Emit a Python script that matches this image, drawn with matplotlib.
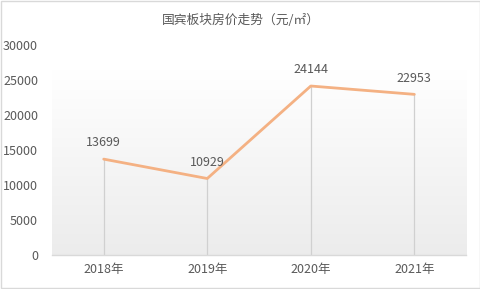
import matplotlib
matplotlib.use("Agg")
import matplotlib.pyplot as plt
import numpy as np

plt.rcParams['font.family'] = ['Noto Sans CJK SC', 'DejaVu Sans']

# data
years = ['2018年', '2019年', '2020年', '2021年']
prices = [13699, 10929, 24144, 22953]
yticks = [0, 5000, 10000, 15000, 20000, 25000, 30000]

text_col = '#595959'
line_col = '#F4B183'

fig = plt.figure(figsize=(4.81, 2.89), dpi=100)
fig.patch.set_facecolor('white')
# outer frame
fig.add_artist(plt.Rectangle((0.002, 0.003), 0.995, 0.993, transform=fig.transFigure,
                             fill=False, edgecolor='#d9d9d9', linewidth=1.0))

ax = fig.add_axes([0.108, 0.1176, 0.861, 0.7266])
x = np.arange(len(years)) + 0.5

# gradient background of the plot area
grad = np.linspace(1.0, 0.0, 256).reshape(-1, 1, 1)
top = np.array([1.0, 1.0, 1.0])
bot = np.array([0.925, 0.925, 0.925])
img = top * grad + bot * (1 - grad)
ax.imshow(img, extent=[0, 4, 0, 26400], aspect='auto', zorder=0, origin='upper')

# drop lines
for xi, v in zip(x, prices):
    ax.plot([xi, xi], [0, v], color='#d0d0d0', linewidth=0.9, zorder=1)

ax.plot(x, prices, color=line_col, linewidth=2.0, zorder=3, solid_capstyle='round')

for xi, v in zip(x, prices):
    ax.text(xi, v + 1400, str(v), ha='center', va='bottom', fontsize=9, color=text_col)

ax.set_xlim(0, 4)
ax.set_ylim(0, 30000)
ax.set_xticks(x)
ax.set_xticklabels(years, fontsize=9, color=text_col)
ax.set_yticks(yticks)
ax.set_yticklabels([str(t) for t in yticks], fontsize=9, color=text_col)
ax.tick_params(axis='x', length=0, pad=6)
ax.tick_params(axis='y', length=0, pad=10)
for s in ['top', 'right', 'left']:
    ax.spines[s].set_visible(False)
ax.spines['bottom'].set_color('#d9d9d9')
ax.spines['bottom'].set_linewidth(1.0)
ax.set_facecolor('none')

fig.text(0.5, 0.928, '国宾板块房价走势（元/㎡）', ha='center', va='center',
         fontsize=9.2, color=text_col)

fig.savefig('out.png', dpi=100)
